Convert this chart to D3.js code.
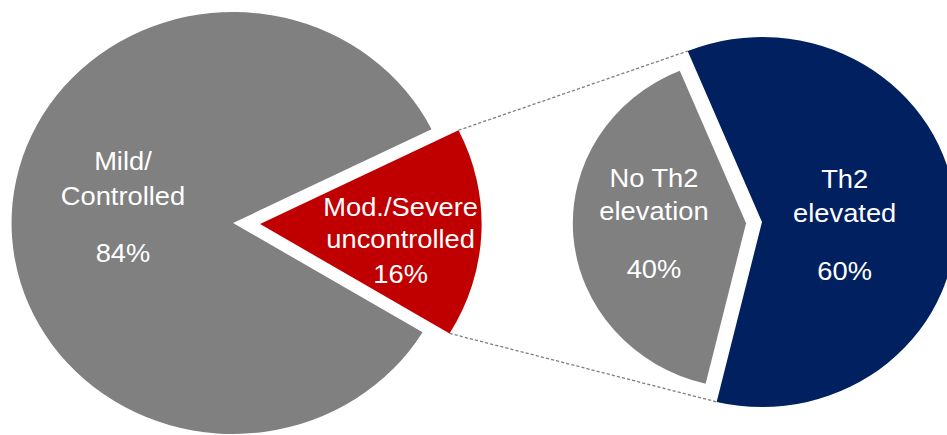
<!DOCTYPE html>
<html>
<head>
<meta charset="utf-8">
<script src="https://cdn.jsdelivr.net/npm/d3@7"></script>
<style>
  html, body { margin: 0; padding: 0; background: #ffffff; }
  svg { display: block; }
  text { font-family: "Liberation Sans", Arial, Helvetica, sans-serif; fill: #ffffff; }
</style>
</head>
<body>
<svg id="chart" width="947" height="435"></svg>
<script>
// Asthma population split (outer pie) and breakdown of the severe group (inner pie)
const outerCategories = ["Mod./Severe uncontrolled", "Mild/Controlled"];
const outerValues = [16, 84];
const outerLabelLines = [["Mod./Severe", "uncontrolled"], ["Mild/", "Controlled"]];

const innerCategories = ["Th2 elevated", "No Th2 elevation"];
const innerValues = [60, 40];
const innerLabelLines = [["Th2", "elevated"], ["No Th2", "elevation"]];

const outerColors = ["#c00000", "#808080"];
const innerColors = ["#002060", "#808080"];

const deg = Math.PI / 180;
const svg = d3.select("#chart");
// whole drawing is slightly wider than tall
const root = svg.append("g").attr("transform", "scale(1.05,1)");

function polar(angle, r) {
  return [Math.sin(angle) * r, -Math.cos(angle) * r];
}

// ---- left pie ----
const L = { cx: 222, cy: 223, r: 211, start: 63.6 * deg, explode: [25.7, 0], labelR: [134, 105] };
const outerPie = d3.pie().sort(null).startAngle(L.start).endAngle(L.start + 2 * Math.PI);
const outerArcs = outerPie(outerValues);
const outerArc = d3.arc().innerRadius(0).outerRadius(L.r);

// ---- right pie ----
const R = { cx: 725.7, cy: 222, r: [185, 165], start: -22.5 * deg, explode: [0, 15.2], labelR: [79, 88] };
const innerPie = d3.pie().sort(null).startAngle(R.start).endAngle(R.start + 2 * Math.PI);
const innerArcs = innerPie(innerValues);

function offsetOf(d, dist) {
  const mid = (d.startAngle + d.endAngle) / 2;
  return polar(mid, dist);
}

// connector lines between the severe slice and the breakdown pie
const sev = outerArcs[0];
const sevOff = offsetOf(sev, L.explode[0]);
const th2 = innerArcs[0];
const p1a = polar(sev.startAngle, L.r), p1b = polar(th2.startAngle, R.r[0]);
const p2a = polar(sev.endAngle, L.r), p2b = polar(th2.endAngle, R.r[0]);
const connectors = [
  [[L.cx + sevOff[0] + p1a[0], L.cy + sevOff[1] + p1a[1]], [R.cx + p1b[0], R.cy + p1b[1]]],
  [[L.cx + sevOff[0] + p2a[0], L.cy + sevOff[1] + p2a[1]], [R.cx + p2b[0], R.cy + p2b[1]]]
];
root.selectAll("line.connector").data(connectors).join("line")
  .attr("class", "connector")
  .attr("x1", d => d[0][0]).attr("y1", d => d[0][1])
  .attr("x2", d => d[1][0]).attr("y2", d => d[1][1])
  .attr("stroke", "#7f7f7f").attr("stroke-width", 1.3)
  .attr("stroke-dasharray", "3,2");

// left slices
const leftG = root.append("g").attr("transform", `translate(${L.cx},${L.cy})`);
leftG.selectAll("path").data(outerArcs).join("path")
  .attr("transform", (d, i) => { const o = offsetOf(d, L.explode[i]); return `translate(${o[0]},${o[1]})`; })
  .attr("d", outerArc)
  .attr("fill", (d, i) => outerColors[i]);

// right slices
const rightG = root.append("g").attr("transform", `translate(${R.cx},${R.cy})`);
rightG.selectAll("path").data(innerArcs).join("path")
  .attr("transform", (d, i) => { const o = offsetOf(d, R.explode[i]); return `translate(${o[0]},${o[1]})`; })
  .attr("d", (d, i) => d3.arc().innerRadius(0).outerRadius(R.r[i])(d))
  .attr("fill", (d, i) => innerColors[i]);

// labels: name lines, then the percentage
// baselines relative to the pie centre for each slice
const outerBaselines = [[-7, 25, 60], [-53, -18, 39]];
const innerBaselines = [[-34, 0, 58], [-35, -2, 56]];

function drawLabels(g, arcs, lines, values, baselines, explode, labelR, cyShift) {
  arcs.forEach((d, i) => {
    const o = offsetOf(d, explode[i]);
    const c = offsetOf(d, labelR[i]);
    const x = o[0] + c[0];
    const rows = lines[i].concat([values[i] + "%"]);
    g.append("text")
      .attr("text-anchor", "middle")
      .attr("font-size", 26)
      .selectAll("tspan").data(rows).join("tspan")
      .attr("x", x)
      .attr("y", (t, k) => baselines[i][k])
      .text(t => t);
  });
}
drawLabels(leftG, outerArcs, outerLabelLines, outerValues, outerBaselines, L.explode, L.labelR);
drawLabels(rightG, innerArcs, innerLabelLines, innerValues, innerBaselines, R.explode, R.labelR);
</script>
</body>
</html>
